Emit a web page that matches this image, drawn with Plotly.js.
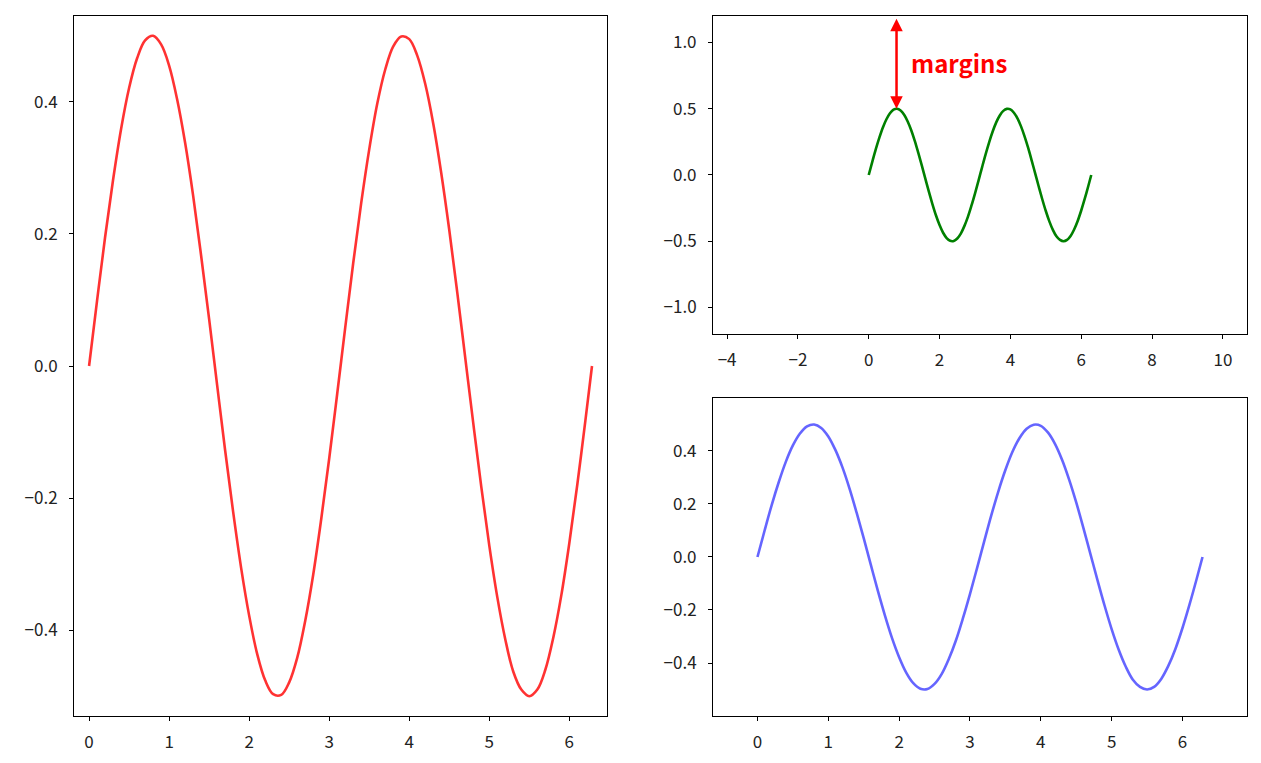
<!DOCTYPE html>
<html>
<head>
<meta charset="utf-8">
<script src="https://cdn.plot.ly/plotly-3.0.1.min.js"></script>
<style>
  html, body { margin: 0; padding: 0; background: #fff; }
  #chart { width: 1261px; height: 763px; }
</style>
</head>
<body>
<div id="chart"></div>
<script>
// x positions and curve values
var xValues = [0, 0.1, 0.2, 0.3, 0.4, 0.5, 0.6, 0.7, 0.8, 0.9,
               1.0, 1.1, 1.2, 1.3, 1.4, 1.5, 1.6, 1.7, 1.8, 1.9,
               2.0, 2.1, 2.2, 2.3, 2.4, 2.5, 2.6, 2.7, 2.8, 2.9,
               3.0, 3.1, 3.2, 3.3, 3.4, 3.5, 3.6, 3.7, 3.8, 3.9,
               4.0, 4.1, 4.2, 4.3, 4.4, 4.5, 4.6, 4.7, 4.8, 4.9,
               5.0, 5.1, 5.2, 5.3, 5.4, 5.5, 5.6, 5.7, 5.8, 5.9,
               6.0, 6.1, 6.2, 6.283];
var yValues = [0, 0.099, 0.195, 0.282, 0.359, 0.421, 0.466, 0.493, 0.500, 0.487,
               0.455, 0.404, 0.338, 0.258, 0.167, 0.071, -0.029, -0.128, -0.221, -0.306,
               -0.378, -0.436, -0.476, -0.497, -0.498, -0.479, -0.442, -0.386, -0.316, -0.232,
               -0.140, -0.042, 0.058, 0.156, 0.247, 0.328, 0.397, 0.449, 0.484, 0.499,
               0.495, 0.470, 0.427, 0.367, 0.292, 0.206, 0.111, 0.012, -0.087, -0.183,
               -0.272, -0.350, -0.414, -0.463, -0.490, -0.500, -0.490, -0.460, -0.411, -0.347,
               -0.268, -0.179, -0.083, 0];

var leftXTicks = [0, 1, 2, 3, 4, 5, 6];
var leftYTicks = [-0.4, -0.2, 0.0, 0.2, 0.4];
var topXTicks = [-4, -2, 0, 2, 4, 6, 8, 10];
var topYTicks = [-1.0, -0.5, 0.0, 0.5, 1.0];
var bottomXTicks = [0, 1, 2, 3, 4, 5, 6];
var bottomYTicks = [-0.4, -0.2, 0.0, 0.2, 0.4];

var tickFont = {family: 'Noto Sans CJK SC, DejaVu Sans, sans-serif', size: 17, color: '#222'};

function axisStyle(domain, anchor, ticks, range, fmt, standoff)
{
    return {
        domain: domain,
        anchor: anchor,
        range: range,
        tickmode: 'array',
        tickvals: ticks,
        ticktext: ticks.map(function(v) { return fmt(v); }),
        ticks: 'outside',
        ticklen: 4,
        tickwidth: 1,
        tickcolor: '#000',
        ticklabelstandoff: standoff,
        showline: true,
        mirror: true,
        linecolor: '#000',
        linewidth: 1,
        showgrid: false,
        zeroline: false,
        tickfont: tickFont
    };
}

function fmtInt(v) { return (v < 0 ? '\u2212' : '') + Math.abs(v).toFixed(0); }
function fmtOne(v) { return (v < 0 ? '\u2212' : '') + Math.abs(v).toFixed(1); }

var plotlyData = [
    {
        x: xValues, y: yValues, xaxis: 'x', yaxis: 'y',
        type: 'scatter', mode: 'lines',
        line: {color: 'red', width: 2.6, shape: 'spline'},
        opacity: 0.8
    },
    {
        x: xValues, y: yValues, xaxis: 'x2', yaxis: 'y2',
        type: 'scatter', mode: 'lines',
        line: {color: 'green', width: 2.6, shape: 'spline'}
    },
    {
        x: xValues, y: yValues, xaxis: 'x3', yaxis: 'y3',
        type: 'scatter', mode: 'lines',
        line: {color: 'blue', width: 2.6, shape: 'spline'},
        opacity: 0.6
    }
];

var plotlyLayout = {
    width: 1261,
    height: 763,
    margin: {l: 0, r: 0, t: 0, b: 0},
    showlegend: false,
    paper_bgcolor: '#fff',
    plot_bgcolor: '#fff',
    xaxis: axisStyle([0.0587, 0.4814], 'y', leftXTicks, [-0.188, 6.471], fmtInt, 7),
    yaxis: axisStyle([0.0616, 0.979], 'x', leftYTicks, [-0.53, 0.53], fmtOne, 8),
    xaxis2: axisStyle([0.5654, 0.9889], 'y2', topXTicks, [-4.398, 10.681], fmtInt, 7),
    yaxis2: axisStyle([0.5623, 0.979], 'x2', topYTicks, [-1.2, 1.2], fmtOne, 8),
    xaxis3: axisStyle([0.5654, 0.9889], 'y3', bottomXTicks, [-0.628, 6.911], fmtInt, 7),
    yaxis3: axisStyle([0.0616, 0.4784], 'x3', bottomYTicks, [-0.6, 0.6], fmtOne, 8),
    annotations: [
        {
            xref: 'x2', yref: 'y2', axref: 'x2', ayref: 'y2',
            x: 0.785, y: 0.5, ax: 0.785, ay: 1.19,
            text: '', showarrow: true,
            arrowside: 'end+start', arrowhead: 2, startarrowhead: 2,
            arrowsize: 1, startarrowsize: 1,
            arrowwidth: 2.5, arrowcolor: 'red'
        },
        {
            xref: 'x2', yref: 'y2',
            x: 1.15, y: 0.85, xanchor: 'left', yanchor: 'middle',
            text: '<b>margins</b>', showarrow: false,
            font: {family: 'Noto Sans CJK SC, sans-serif', size: 24, color: 'red'}
        }
    ]
};

var plotlyConfig = {displayModeBar: false, responsive: false};

Plotly.newPlot('chart', plotlyData, plotlyLayout, plotlyConfig);
</script>
</body>
</html>
